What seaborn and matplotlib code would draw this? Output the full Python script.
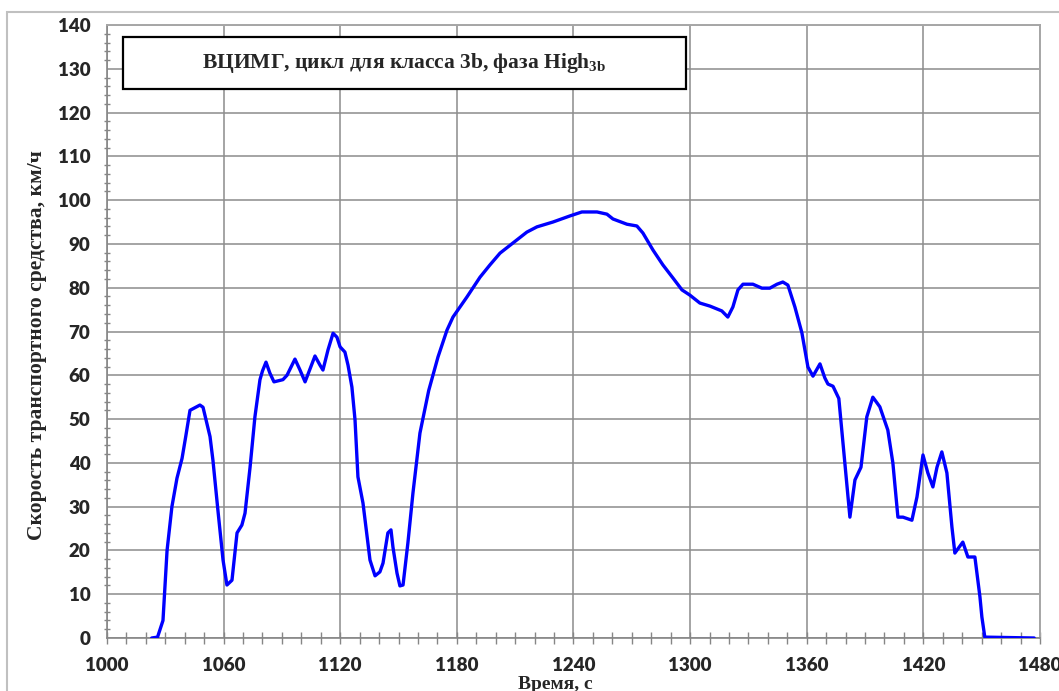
import pandas as pd
import seaborn as sns
import matplotlib.pyplot as plt
from matplotlib.patches import Rectangle
from matplotlib.ticker import MultipleLocator, FixedLocator

# values (time in s, speed in km/h)
time_s = [1023, 1026, 1028.8, 1030.9, 1033.4, 1036, 1038.6, 1040.5, 1042.7, 1047.8,
          1049.4, 1053, 1054.5, 1057.1, 1059.7, 1061.7, 1064.3, 1066.9, 1069.4, 1071,
          1073.6, 1076.1, 1078.7, 1080, 1081.8, 1083.8, 1085.9, 1090.5, 1092.6, 1096.7,
          1099.3, 1101.9, 1107, 1109.6, 1111.1, 1113.7, 1116.3, 1118.3, 1119.9, 1122.4,
          1124, 1126, 1127.6, 1129.1, 1131.7, 1135.3, 1137.9, 1140.4, 1142, 1144.5,
          1146.1, 1147.1, 1149.2, 1150.7, 1152.3, 1154.8, 1157.4, 1161, 1165.5, 1170.3,
          1174.9, 1178, 1185.2, 1191.9, 1197, 1202.2, 1208.8, 1216, 1221.2, 1229.4,
          1238.2, 1244.3, 1252.1, 1257.2, 1260.3, 1267.5, 1272.6, 1275.7, 1280.9, 1286,
          1291.2, 1295.8, 1299.9, 1305, 1310.2, 1316.3, 1319.4, 1322, 1324.6, 1327.2,
          1332.3, 1336.9, 1341, 1344.7, 1347.7, 1350.3, 1353.9, 1357.5, 1360.6, 1363.2,
          1366.8, 1369.3, 1370.9, 1373.5, 1376.5, 1379.6, 1382.2, 1384.8, 1387.9, 1390.9,
          1394, 1397.6, 1401.7, 1404.3, 1406.9, 1409.5, 1414.1, 1416.7, 1419.8, 1422.3,
          1424.9, 1427, 1429.5, 1432.1, 1434.7, 1436.2, 1440.3, 1442.9, 1446.5, 1449.1,
          1450.1, 1451.6, 1477]
speed_kmh = [0, 0.2, 4, 20, 30, 36.5, 41, 46, 52, 53.2,
             52.7, 46, 40.6, 29, 17.8, 12.1, 13.2, 24, 25.8, 28.5,
             39, 50.5, 59, 61, 63, 60.5, 58.5, 59, 60, 63.7,
             61.2, 58.5, 64.4, 62.3, 61.2, 65.8, 69.6, 68.7, 66.5, 65.3,
             62.3, 57.3, 49.8, 36.8, 30.8, 17.8, 14.2, 15.1, 17.1, 24,
             24.7, 20.8, 14.8, 11.9, 12.1, 21.7, 33.1, 46.8, 56.5, 64.2,
             70.3, 73.3, 77.9, 82.4, 85.2, 87.9, 90.2, 92.7, 93.9, 95,
             96.4, 97.3, 97.3, 96.8, 95.7, 94.5, 94.1, 92.5, 88.6, 85.2,
             82.2, 79.5, 78.3, 76.5, 75.8, 74.7, 73.3, 75.6, 79.5, 80.8,
             80.8, 79.9, 79.9, 80.8, 81.3, 80.6, 75.6, 69.7, 61.9, 59.8,
             62.6, 59.4, 58, 57.5, 54.7, 40, 27.6, 36.1, 39, 50.5,
             55, 52.8, 47.5, 40, 27.6, 27.6, 26.9, 32.2, 41.8, 37.7,
             34.5, 39, 42.5, 37.7, 25.3, 19.4, 21.9, 18.5, 18.5, 9.4,
             4.8, 0.2, 0]

x_ticks = [1000, 1060, 1120, 1180, 1240, 1300, 1360, 1420, 1480]

title = 'ВЦИМГ, цикл для класса 3b, фаза High$_{\\mathrm{3b}}$'
xlabel = 'Время, с'
ylabel = 'Скорость транспортного средства, км/ч'

df = pd.DataFrame({'t': time_s, 'v': speed_kmh})

sns.set_style('white')
plt.rcParams['mathtext.fontset'] = 'custom'
plt.rcParams['mathtext.rm'] = 'Liberation Serif:bold'
plt.rcParams['mathtext.bf'] = 'Liberation Serif:bold'

fig = plt.figure(figsize=(10.59, 6.91), dpi=100)
ax = fig.add_axes([107 / 1059, 1 - 638 / 691, 933 / 1059, 613 / 691])

sns.lineplot(x='t', y='v', data=df, ax=ax, color='#0000ff', linewidth=2.4,
             estimator=None, sort=False, zorder=3)

ax.set_xlim(1000, 1480)
ax.set_ylim(0, 140)
ax.xaxis.set_major_locator(FixedLocator(x_ticks))
ax.xaxis.set_minor_locator(MultipleLocator(10))
ax.yaxis.set_major_locator(MultipleLocator(10))
ax.yaxis.set_minor_locator(MultipleLocator(2))
ax.grid(True, which='major', color='#8c8c8c', linewidth=1.1)

for side in ['left', 'bottom']:
    ax.spines[side].set_color('#868686')
    ax.spines[side].set_linewidth(1.2)
for side in ['top', 'right']:
    ax.spines[side].set_color('#a6a6a6')
    ax.spines[side].set_linewidth(1.4)

ax.tick_params(axis='y', which='major', direction='inout', length=10, width=1,
               color='#868686', pad=7)
ax.tick_params(axis='y', which='minor', direction='inout', length=5, width=1,
               color='#868686', left=True)
ax.tick_params(axis='x', which='both', direction='inout', length=8, width=1,
               color='#868686', pad=10, bottom=True)
for lab in ax.get_xticklabels() + ax.get_yticklabels():
    lab.set_fontfamily('Lato')
    lab.set_fontweight('heavy')
    lab.set_fontsize(13.5)

ax.set_xlabel(xlabel, fontfamily='Liberation Serif', fontweight='bold', fontsize=14)
ax.set_ylabel(ylabel, fontfamily='Liberation Serif', fontweight='bold', fontsize=15.5)
ax.xaxis.set_label_coords(0.480, -0.062)
ax.yaxis.set_label_coords(-0.064, 0.478)

# title box inside the plot area
ax.add_patch(Rectangle((0.0168, 0.8956), 0.6038, 0.0848, transform=ax.transAxes,
                       facecolor='white', edgecolor='black', linewidth=1.6, zorder=4))
ax.text(0.318, 0.938, title, transform=ax.transAxes, ha='center', va='center',
        fontfamily='Liberation Serif', fontweight='bold', fontsize=15.5, zorder=5)

# outer chart border
fig.patches.append(Rectangle((7 / 1059, -0.05), 1.1, 1 - 12 / 691 + 0.05,
                             transform=fig.transFigure, fill=False,
                             edgecolor='#c0c0c0', linewidth=1.5))

plt.savefig('out.png', dpi=100)
